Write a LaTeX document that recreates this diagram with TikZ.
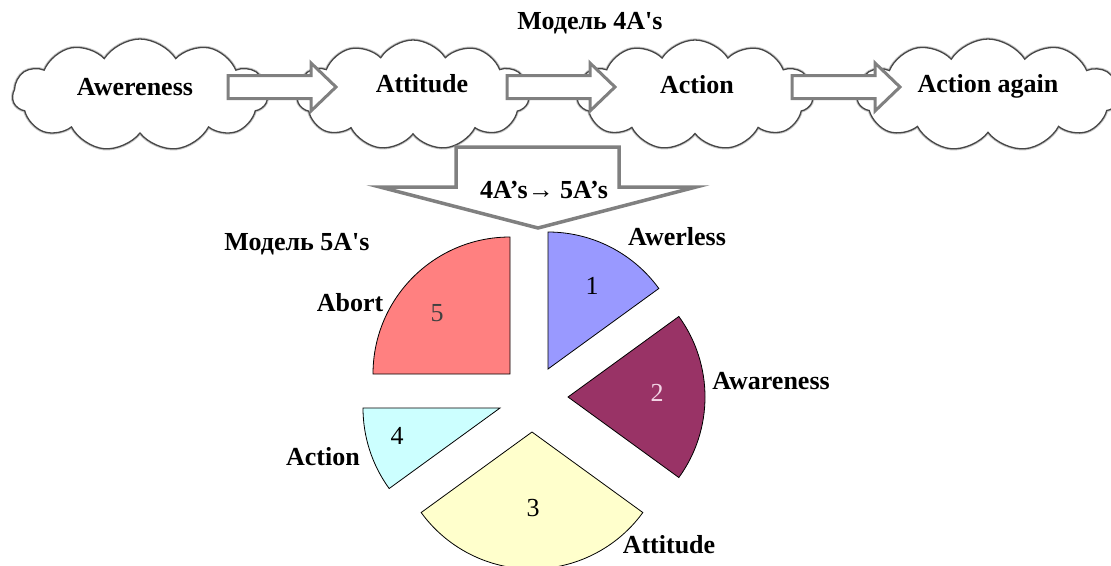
\documentclass[tikz,border=0pt]{standalone}
\usepackage{fontspec}
\setmainfont{Liberation Serif}
\setmonofont{Liberation Serif}
\newcommand\straightq{{\ttfamily\char"27}}
\usetikzlibrary{shapes.symbols}
\definecolor{pieRed}{HTML}{FF8080}
\definecolor{pieBlue}{HTML}{9999FF}
\definecolor{piePurple}{HTML}{993366}
\definecolor{pieYellow}{HTML}{FFFFCC}
\definecolor{pieCyan}{HTML}{CCFFFF}
\definecolor{arrowGray}{HTML}{808080}
\definecolor{numPink}{HTML}{F2D6E6}
\begin{document}
\begin{tikzpicture}[x=1pt,y=-1pt,
  cloudbox/.style={cloud, cloud puffs=11, cloud puff arc=115, aspect=2.3,
    draw=black!72, line width=1.3pt, fill=white, inner sep=0pt,
    preaction={draw=black!22, line width=3.2pt}},
  lbl/.style={font=\fontsize{26}{30}\selectfont\bfseries, inner sep=0pt},
  num/.style={font=\fontsize{26}{30}\selectfont, inner sep=0pt},
  blockarrow/.style={draw=arrowGray, line width=3pt, fill=white, line join=miter},
  bigarrow/.style={draw=arrowGray, line width=3.5pt, fill=white, line join=miter},
  wedge/.style={draw=black, line width=0.8pt, line join=miter},
  blockarr/.pic={\draw[blockarrow] (0,-11.5) -- (83,-11.5) -- (83,-24) -- (108,0)
      -- (83,24) -- (83,11.5) -- (0,11.5) -- cycle;}]
\useasboundingbox (0,0) rectangle (1111,565);
\fill[white] (0,0) rectangle (1111,565);

% title
\node[lbl] (title4) at (590,23) {Модель 4A\straightq s};

% clouds
\node[cloudbox, minimum width=255, minimum height=112] (c1) at (140,95) {};
\node[cloudbox, minimum width=232, minimum height=110] (c2) at (413,95) {};
\node[cloudbox, minimum width=236, minimum height=110] (c3) at (695,95) {};
\node[cloudbox, minimum width=262, minimum height=112] (c4) at (988,95) {};

\node[lbl] (t1) at (135,87) {Awereness};
\node[lbl] (t2) at (422,84) {Attitude};
\node[lbl] (t3) at (697,85) {Action};
\node[lbl] (t4) at (988,86) {Action again};

% block arrows between clouds
\coordinate (a1) at (228,87);
\coordinate (a2) at (507,87);
\coordinate (a3) at (792,87);
\pic at (a1) {blockarr};
\pic at (a2) {blockarr};
\pic at (a3) {blockarr};

% big down arrow
\draw[bigarrow] (456,147) -- (619,147) -- (619,187) -- (696,187) -- (538,228)
  -- (380,187) -- (456,187) -- cycle;
\node[lbl] (trans) at (544,190) {4A’s→ 5A’s};

% pie wedges
\draw[wedge, fill=pieBlue] (548,369) -- ++(-90:137) arc[start angle=-90, end angle=-36, radius=137] -- cycle;
\draw[wedge, fill=piePurple] (568,397) -- ++(-36:137) arc[start angle=-36, end angle=36, radius=137] -- cycle;
\draw[wedge, fill=pieYellow] (532,432) -- ++(36:137) arc[start angle=36, end angle=144, radius=137] -- cycle;
\draw[wedge, fill=pieCyan] (500,408) -- ++(144:137) arc[start angle=144, end angle=180, radius=137] -- cycle;
\draw[wedge, fill=pieRed] (510,374) -- ++(-180:137) arc[start angle=-180, end angle=-90, radius=137] -- cycle;

% numbers
\node[num] (n1) at (592,286) {1};
\node[num, text=numPink] (n2) at (657,393) {2};
\node[num] (n3) at (533,508) {3};
\node[num] (n4) at (397,436) {4};
\node[num, text=black!75] (n5) at (437,313) {5};

% outer labels
\node[lbl] (model5) at (297,244) {Модель 5A\straightq s};
\node[lbl] (l1) at (677,237) {Awerless};
\node[lbl] (l2) at (771,381) {Awareness};
\node[lbl] (l3) at (669,545) {Attitude};
\node[lbl] (l4) at (323,457) {Action};
\node[lbl] (l5) at (350,303) {Abort};
\end{tikzpicture}
\end{document}
